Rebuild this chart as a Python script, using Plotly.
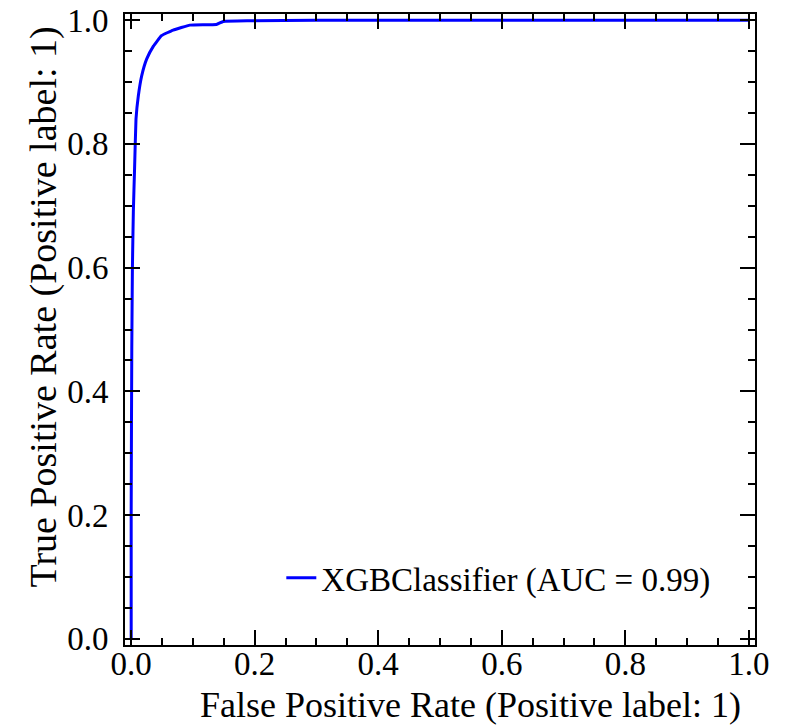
import plotly.graph_objects as go

fpr = [0.0, 0.0, 0.0005, 0.001, 0.002, 0.0035, 0.0055, 0.0078, 0.0115, 0.017, 0.025,
       0.036, 0.049, 0.068, 0.095, 0.138, 0.149, 0.192, 0.30, 1.0]
tpr = [0.0, 0.20, 0.35, 0.47, 0.60, 0.69, 0.76, 0.84, 0.877, 0.910, 0.937,
       0.958, 0.975, 0.984, 0.992, 0.993, 0.998, 0.999, 1.0, 1.0]
series_name = "XGBClassifier (AUC = 0.99)"
x_title = "False Positive Rate (Positive label: 1)"
y_title = "True Positive Rate (Positive label: 1)"

FONT = "Liberation Serif, Times New Roman, serif"

fig = go.Figure()
fig.add_trace(go.Scatter(x=fpr, y=tpr, mode="lines", name=series_name,
                         line=dict(color="#0000ff", width=3, shape="spline", smoothing=0.3)))

axis_common = dict(
    range=[-0.01, 1.01], showgrid=False, zeroline=False, automargin=False,
    showline=True, linecolor="black", linewidth=2, mirror="allticks",
    ticks="inside", ticklen=15, tickwidth=2, tickcolor="black",
    tick0=0, dtick=0.2, tickformat=".1f", ticklabeloverflow="allow",
    tickfont=dict(family=FONT, size=33, color="black"),
    minor=dict(ticks="inside", ticklen=7, tickwidth=2, tickcolor="black", dtick=0.05, showgrid=False),
)

# page body has an 8px default margin; figure sized so that it fills the 789x728 window
fig.update_layout(
    width=781, height=720,
    margin=dict(l=117, r=34, t=6, b=83),
    paper_bgcolor="white", plot_bgcolor="white",
    font=dict(family=FONT, size=33, color="black"),
    showlegend=True,
    legend=dict(x=0.937, y=0.062, xanchor="right", yanchor="bottom",
                bgcolor="rgba(0,0,0,0)", font=dict(family=FONT, size=33, color="black")),
    xaxis=dict(axis_common, ticklabelstandoff=-12),
    yaxis=dict(axis_common, ticklabelstandoff=8),
)

# axis labels placed at the right / top ends of the axes (as in the reference)
fig.add_annotation(text=x_title, xref="paper", yref="paper", x=1, y=0,
                   xanchor="right", yanchor="middle", xshift=-12, yshift=-60,
                   showarrow=False, font=dict(family=FONT, size=36, color="black"))
fig.add_annotation(text=y_title, xref="paper", yref="paper", x=0, y=1,
                   xanchor="center", yanchor="top", xshift=-82, yshift=-11, textangle=-90,
                   showarrow=False, font=dict(family=FONT, size=38, color="black"))

fig.write_html("out.html")
